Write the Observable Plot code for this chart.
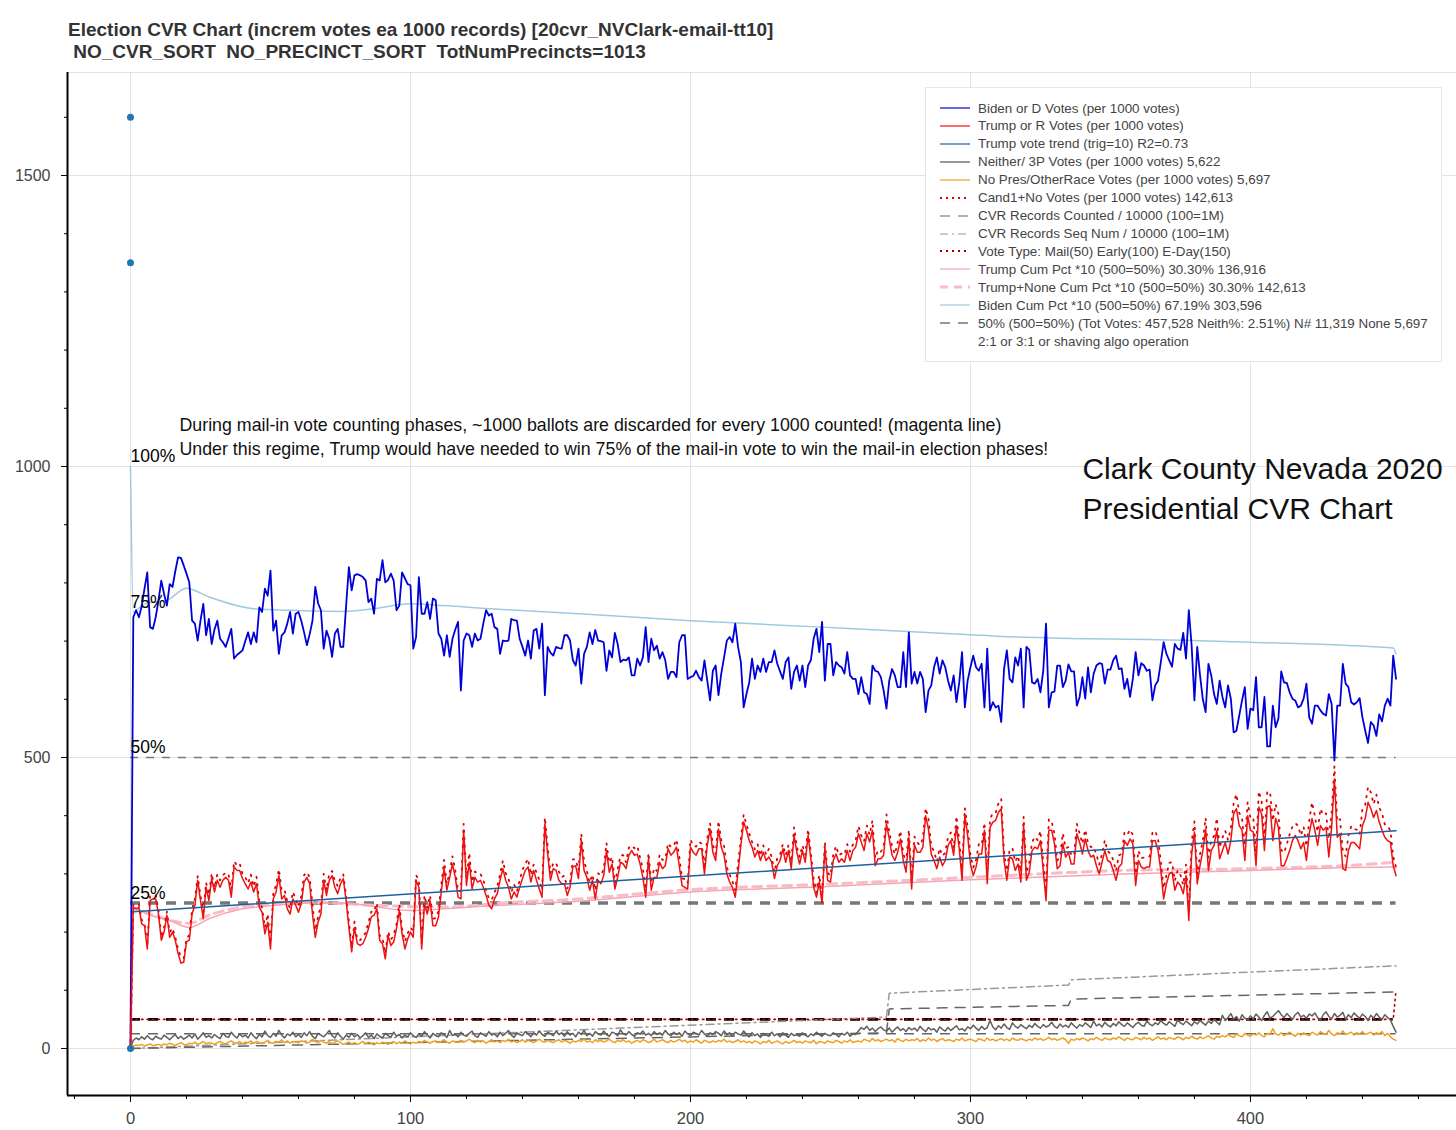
<!DOCTYPE html>
<html>
<head>
<meta charset="utf-8">
<script src="https://cdn.jsdelivr.net/npm/d3@7"></script>
<script src="https://cdn.jsdelivr.net/npm/@observablehq/plot@0.6"></script>
<style>
  html, body { margin: 0; padding: 0; background: #fff; }
  body { width: 1456px; height: 1130px; position: relative; overflow: hidden; font-family: "Liberation Sans", Arial, Helvetica, sans-serif; }
  #title { height: 68px; position: relative; }
  #title div { position: absolute; left: 68px; font-weight: bold; font-size: 19px; color: #333; white-space: pre; }
  #legend { position: absolute; left: 925px; top: 87px; width: 517px; height: 275px; background: #fff; border: 1px solid #e6e6e6; box-sizing: border-box; }
  #legend .row { position: absolute; left: 14px; height: 18px; display: flex; align-items: center; font-size: 13.4px; color: #444; white-space: nowrap; }
  #legend svg { margin-right: 7px; }
</style>
</head>
<body>
<div id="title">
  <div style="top:19px">Election CVR Chart (increm votes ea 1000 records) [20cvr_NVClark-email-tt10]</div>
  <div style="top:41px"> NO_CVR_SORT  NO_PRECINCT_SORT  TotNumPrecincts=1013</div>
</div>
<div id="chart"></div>
<div id="legend"></div>
<script>
// ---------------- data (per 1000-record increment index) ----------------
const biden = [0,741,753,741,760,790,818,724,721,741,
770,804,781,761,798,793,820,844,843,830,
816,801,735,730,701,735,764,710,738,695,
720,735,704,698,690,705,721,670,676,680,
684,700,715,695,715,698,758,750,790,778,
821,718,735,678,710,715,730,750,713,747,
750,735,715,693,712,735,793,765,753,687,
718,704,673,713,721,690,690,760,827,787,
813,815,813,810,804,767,773,747,807,804,
839,801,805,816,804,753,761,818,808,798,
796,687,707,810,747,747,767,738,773,770,
713,704,675,710,673,704,720,733,615,701,
713,710,690,713,701,704,730,753,744,747,
724,721,678,701,700,701,738,736,735,704,
690,675,701,670,718,721,687,730,607,690,
680,675,690,688,687,710,710,701,667,658,
687,627,678,690,715,695,719,701,700,698,
649,684,672,714,695,664,668,667,672,641,
641,670,658,672,724,664,704,684,692,670,
681,667,635,647,647,638,698,710,710,635,
638,640,649,638,632,667,632,598,649,658,
607,644,672,701,707,698,730,690,664,586,
609,629,670,635,658,647,670,647,664,664,
684,661,648,635,664,672,618,647,658,632,
658,621,658,667,704,721,681,733,632,695,
695,641,664,658,655,644,681,641,635,635,
609,638,612,609,592,658,649,647,638,615,
584,632,652,641,621,621,681,621,715,627,
647,627,647,635,578,615,624,655,672,644,
667,655,632,615,641,595,629,681,586,632,
655,675,655,649,661,586,687,581,595,586,
589,561,652,684,635,629,672,658,687,586,
690,685,629,627,635,612,649,730,586,612,
613,658,658,621,632,660,648,648,589,604,
638,601,655,612,644,658,662,661,627,651,
651,667,675,652,653,618,635,604,635,681,
641,662,658,649,651,598,624,632,664,698,
678,667,656,695,687,685,714,670,753,692,
598,690,641,600,578,661,641,609,592,632,
604,586,624,601,543,546,572,598,621,549,
584,581,638,552,552,604,519,519,589,552,
567,648,629,628,612,601,598,586,589,601,
627,569,558,589,589,581,575,572,609,592,
495,589,589,661,627,621,595,591,595,602,
569,546,525,561,555,537,574,562,589,601,
589,675,635];

const trump = [0,243,240,243,214,211,171,254,257,257,
231,186,200,229,191,200,186,163,147,148,
183,186,231,246,289,254,223,277,254,292,
269,289,277,289,294,289,260,312,306,306,
292,283,274,286,269,283,243,234,197,217,
171,257,269,297,257,263,240,231,257,246,
234,249,286,294,283,231,191,217,231,289,
263,289,297,277,266,283,292,254,208,166,
208,180,177,180,191,206,226,229,240,186,
180,154,194,177,183,206,237,197,171,188,
200,191,289,277,171,249,231,254,211,211,
226,269,309,272,294,317,294,260,257,375,
280,320,274,294,286,289,277,263,246,240,
257,266,289,309,289,277,257,269,260,277,
292,306,312,286,306,289,274,260,386,334,
289,309,306,289,283,283,263,277,312,314,
292,357,306,294,272,289,257,289,283,297,
340,303,317,274,294,320,317,309,332,340,
332,334,317,294,260,326,272,294,294,320,
309,314,343,332,337,346,314,280,277,274,
346,337,332,343,343,300,349,377,337,323,
377,346,332,300,286,277,260,303,349,389,
375,357,346,329,340,323,337,323,329,320,
292,314,323,343,320,340,309,366,337,317,
340,320,366,326,277,260,286,249,346,289,
286,323,334,320,326,320,340,323,340,346,
369,355,340,369,355,375,314,326,326,332,
386,360,332,323,337,360,323,303,363,274,
350,337,337,346,400,377,334,323,309,329,
314,323,349,357,332,383,343,289,400,366,
317,297,312,334,334,375,283,380,389,392,
406,412,323,289,329,326,306,317,286,383,
289,303,340,346,343,357,306,254,375,375,
352,309,314,352,329,337,317,317,369,354,
334,360,340,329,332,314,300,320,340,323,
320,306,289,312,317,357,349,360,352,280,
323,312,309,312,312,357,357,340,306,257,
283,300,303,272,286,280,266,297,220,334,
372,283,314,340,377,306,340,349,375,326,
340,354,334,357,403,412,383,375,323,400,
375,372,314,415,403,340,415,417,357,395,
380,314,314,326,340,357,366,357,343,354,
323,369,395,375,349,383,375,380,329,380,
463,363,369,309,306,340,354,354,349,343,
383,395,423,412,397,409,389,375,363,357,
354,314,297];

const neither = [0,14,18,15,20,16,22,17,15,21,
18,16,23,19,15,20,24,17,21,16,
19,23,18,25,16,21,27,19,22,18,
24,20,17,26,21,19,28,22,18,25,
20,23,18,27,21,17,24,20,30,22,
19,26,21,31,23,18,25,22,28,20,
24,19,27,22,29,21,17,26,23,20,
25,31,22,18,27,21,16,23,19,26,
20,24,18,22,27,19,23,17,25,21,
18,26,22,19,28,21,24,18,23,20,
27,22,19,25,21,29,23,18,26,22,
20,27,24,19,31,22,25,20,28,23,
21,26,30,22,19,27,24,21,29,23,
25,20,28,22,26,31,23,19,27,24,
22,29,25,20,27,23,30,24,21,28,
25,22,30,24,27,21,29,23,26,20,
28,24,31,22,26,21,29,25,23,30,
24,21,28,26,22,32,25,23,29,24,
21,27,25,30,23,26,22,29,24,27,
23,31,25,22,28,24,27,21,30,25,
22,28,26,23,31,25,21,27,24,29,
26,22,30,24,27,21,28,25,23,30,
24,20,27,22,25,19,26,23,21,28,
22,25,20,27,23,19,26,22,24,21,
27,23,20,25,22,28,24,21,26,23,
22,27,24,20,26,23,28,21,25,24,
30,36,33,38,31,35,29,34,37,32,
30,35,28,33,37,31,34,29,36,32,
35,30,38,33,29,36,32,34,28,37,
33,30,36,31,35,39,32,34,30,37,
34,40,35,31,38,33,36,48,37,32,
39,35,42,36,33,44,38,35,41,37,
34,40,36,43,38,35,41,37,39,45,
38,35,42,37,40,36,44,39,35,41,
38,44,40,36,47,39,42,37,45,40,
37,43,39,46,41,38,44,40,36,42,
45,40,38,47,42,39,44,41,48,43,
40,46,42,38,49,44,41,47,43,39,
46,42,48,44,40,47,43,50,45,41,
57,48,53,60,50,55,47,58,52,49,
56,51,59,54,48,57,63,52,55,60,
65,58,53,60,55,50,58,62,54,57,
52,59,56,61,53,48,58,63,55,51,
60,54,57,62,50,58,53,61,56,52,
59,55,48,57,52,60,54,50,58,53,
49,38,28];

const none = [0,4,6,5,7,4,6,8,5,6,
7,5,8,6,9,7,5,8,10,7,
6,9,8,11,7,9,12,8,10,9,
7,10,12,9,8,11,13,10,9,12,
8,11,10,13,9,12,10,8,11,14,
10,9,12,11,15,10,13,9,12,11,
10,13,12,9,11,16,12,10,14,11,
9,12,8,11,13,10,7,9,11,8,
10,7,9,12,8,11,9,6,10,8,
11,9,7,10,12,8,11,9,13,10,
8,11,9,12,10,14,11,9,12,13,
10,12,15,11,9,13,12,10,14,11,
13,16,12,10,14,11,13,9,12,15,
11,13,10,14,12,16,11,13,10,12,
15,11,14,12,10,13,16,12,11,14,
12,10,13,15,11,14,12,9,13,11,
14,12,16,11,13,10,15,12,14,11,
13,16,12,10,14,12,15,11,13,9,
12,14,11,15,13,10,12,16,11,13,
15,12,10,14,11,13,16,12,14,10,
13,11,15,12,9,14,12,10,13,11,
14,12,16,11,13,10,12,15,11,13,
10,12,9,13,11,8,12,10,14,9,
11,13,10,8,12,9,11,14,10,12,
9,13,11,10,14,8,12,11,9,13,
11,10,14,12,9,13,11,15,10,12,
13,11,16,14,12,17,13,15,12,14,
16,13,15,11,17,14,12,16,13,15,
14,17,12,15,13,18,14,16,12,15,
17,13,15,14,12,16,14,18,13,15,
16,14,12,17,15,13,18,14,16,13,
15,17,14,16,13,18,15,14,17,15,
13,16,14,18,15,17,14,16,19,15,
17,14,16,18,15,9,16,14,17,15,
18,16,13,17,15,19,16,14,18,16,
15,18,16,20,17,14,18,16,15,19,
17,15,19,16,18,14,17,20,16,18,
15,19,17,16,20,18,15,19,17,21,
18,16,20,17,19,22,18,16,21,19,
22,20,24,21,19,25,22,20,26,23,
21,25,23,27,22,20,26,24,34,25,
23,27,22,25,28,24,21,26,23,27,
24,22,28,25,23,29,26,24,31,25,
22,27,25,30,24,26,28,23,27,25,
29,24,26,28,23,27,25,29,22,26,
20,16,14];

// cumulative percentage lines (*10), read at sampled indices
const bidenCumIdx = [0,1,5,13,20,28,45,57,76,86,100,112,130,157,200,247,300,311,379,400,451,452];
const bidenCumVal = [1000,750,764,770,791,776,755,753,751,755,764,761,755,748,735,724,711,708,701,698,688,678];
const trumpCumIdx = [0,1,7,14,21,28,40,52,64,76,88,100,112,124,136,157,200,247,300,355,400,451,452];
const trumpCumVal = [0,240,229,220,208,223,240,246,250,250,243,237,240,244,247,252,269,278,290,300,306,312,310];
const trumpNoneCumIdx = [0,1,7,21,28,40,64,88,112,136,157,200,247,300,355,400,451,452];
const trumpNoneCumVal = [0,240,231,215,229,243,251,246,243,251,256,273,282,294,306,309,320,322];
const trendIdx = [1,452];
const trendVal = [235,374];
// CVR record counters (/10000) and vote type
const cvrCountedIdx = [0,270,271,335,336,452];
const cvrCountedVal = [0,27,68,74,85,97];
const cvrSeqIdx = [0,270,271,335,336,452];
const cvrSeqVal = [0,54,95,109,118,142];
const voteTypeIdx = [0,451,452];
const voteTypeVal = [50,50,100];
// reference levels
const pctLevels = [1000,750,500,250];
const pctLabels = ["100%","75%","50%","25%"];
const neithPctLevel = 25.1;
const mailLevel = 50;
// scatter dots at x = 0
const dotVals = [0,1350,1600];
// axis ticks
const xMajor = [0,100,200,300,400];
const xMinor = [-20,20,40,60,80,120,140,160,180,220,240,260,280,320,340,360,380,420,440,460];
const yMajor = [0,500,1000,1500];
const yMinor = [100,200,300,400,600,700,800,900,1100,1200,1300,1400,1600];
// annotations
const notes = [
  {x: 17.5, y: 1070, t: "During mail-in vote counting phases, ~1000 ballots are discarded for every 1000 counted! (magenta line)", size: 17.8},
  {x: 17.5, y: 1029, t: "Under this regime, Trump would have needed to win 75% of the mail-in vote to win the mail-in election phases!", size: 17.8},
  {x: 340, y: 995, t: "Clark County Nevada 2020", size: 30},
  {x: 340, y: 926, t: "Presidential CVR Chart", size: 30}
];

// ---------------- build ----------------
const idx = d3.range(biden.length);
const rows = idx.map(i => ({i, biden: biden[i], trump: trump[i], neither: neither[i], none: none[i]}));
const pairs = (xs, ys) => xs.map((x, k) => ({x, y: ys[k]}));
const first = d3.min(idx), last = d3.max(idx);
const xMin = -22.5, xMax = 473.6, yMin = -80.8, yMax = 1677;
const font = '"Liberation Sans", Arial, Helvetica, sans-serif';

const chart = Plot.plot({
  width: 1456, height: 1062,
  marginLeft: 67, marginRight: 0, marginTop: 4, marginBottom: 35,
  x: {domain: [xMin, xMax], label: null},
  y: {domain: [yMin, yMax], label: null},
  style: {fontFamily: font, fontSize: "16px", background: "#fff", overflow: "visible"},
  marks: [
    Plot.gridX(xMajor, {stroke: "#e2e2e2", strokeOpacity: 1}),
    Plot.gridY(yMajor, {stroke: "#e2e2e2", strokeOpacity: 1}),
    Plot.ruleY([yMax], {stroke: "#e2e2e2"}),
    // reference levels
    Plot.ruleY([500], {x1: () => first, x2: () => last, stroke: "#777", strokeWidth: 1.5, strokeDasharray: "8,8"}),
    Plot.ruleY([250], {x1: () => first, x2: () => last, stroke: "#777", strokeWidth: 3.5, strokeDasharray: "10,8"}),
    Plot.ruleY([neithPctLevel], {x1: () => first, x2: () => last, stroke: "#666", strokeWidth: 1.5, strokeDasharray: "10,8"}),
    Plot.ruleY([mailLevel], {x1: () => first, x2: () => last - 1, stroke: "#000", strokeWidth: 2.8, strokeDasharray: "10,8"}),
    // counters
    Plot.line(pairs(cvrSeqIdx, cvrSeqVal), {x: "x", y: "y", stroke: "#999", strokeWidth: 1.5, strokeDasharray: "8,4,2,4"}),
    Plot.line(pairs(cvrCountedIdx, cvrCountedVal), {x: "x", y: "y", stroke: "#666", strokeWidth: 1.5, strokeDasharray: "10,8"}),
    Plot.line(pairs(voteTypeIdx, voteTypeVal), {x: "x", y: "y", stroke: "#b00000", strokeWidth: 1.6, strokeDasharray: "1.5,4"}),
    Plot.line(rows, {x: "i", y: "none", stroke: "#f0a020", strokeWidth: 1.5}),
    Plot.line(rows, {x: "i", y: "neither", stroke: "#5f5f5f", strokeWidth: 1.5}),
    // cumulative lines
    Plot.line(pairs(bidenCumIdx, bidenCumVal), {x: "x", y: "y", stroke: "#9ecae1", strokeWidth: 1.5, curve: "monotone-x"}),
    Plot.line(pairs(trumpNoneCumIdx, trumpNoneCumVal), {x: "x", y: "y", stroke: "#f7bcc7", strokeWidth: 3, strokeDasharray: "9,6", curve: "monotone-x"}),
    Plot.line(pairs(trumpCumIdx, trumpCumVal), {x: "x", y: "y", stroke: "#f4a6b4", strokeWidth: 1.5, curve: "monotone-x"}),
    // votes
    Plot.line(rows, {x: "i", y: "biden", stroke: "#0000d8", strokeWidth: 1.8}),
    Plot.line(rows, {x: "i", y: d => d.trump + d.none, stroke: "#e00000", strokeWidth: 1.8, strokeDasharray: "1.5,6"}),
    Plot.line(rows, {x: "i", y: "trump", stroke: "#ee1111", strokeWidth: 1.5}),
    Plot.line(pairs(trendIdx, trendVal), {x: "x", y: "y", stroke: "#1f5f9f", strokeWidth: 1.5}),
    Plot.dot(dotVals, {x: () => 0, y: d => d, r: 3.5, fill: "#1f77b4", stroke: "none"}),
    // labels
    Plot.text(pctLevels, {x: () => 0, y: d => d, text: (d, k) => pctLabels[k], textAnchor: "start", dx: 0, dy: -10, fontSize: 17.5, fill: "#000"}),
    Plot.text(notes, {x: "x", y: "y", text: "t", textAnchor: "start", fontSize: d => d.size, fill: "#111"}),
    // axes
    Plot.ruleX([xMin], {stroke: "#000", strokeWidth: 2}),
    Plot.ruleY([yMin], {stroke: "#000", strokeWidth: 2}),
    Plot.axisY(yMajor, {tickSize: 6, tickPadding: 11, stroke: "#000", fill: "#444", fontSize: 16, tickFormat: d => String(d), label: null}),
    Plot.axisY(yMinor, {tickSize: 3, tickFormat: () => "", stroke: "#000", label: null}),
    Plot.axisX(xMajor, {tickSize: 7, tickPadding: 10, stroke: "#000", fill: "#444", fontSize: 16.5, tickFormat: d => String(d), label: null}),
    Plot.axisX(xMinor, {tickSize: 4, tickFormat: () => "", stroke: "#000", label: null})
  ]
});
document.getElementById("chart").appendChild(chart);

// ---------------- legend ----------------
const legendItems = [
  {label: "Biden or D Votes (per 1000 votes)", stroke: "#0000d8"},
  {label: "Trump or R Votes (per 1000 votes)", stroke: "#ee1111"},
  {label: "Trump vote trend (trig=10) R2=0.73", stroke: "#1f5f9f"},
  {label: "Neither/ 3P Votes (per 1000 votes) 5,622", stroke: "#555"},
  {label: "No Pres/OtherRace Votes (per 1000 votes) 5,697", stroke: "#f0a020"},
  {label: "Cand1+No Votes (per 1000 votes) 142,613", stroke: "#e00000", dash: "2,4", w: 2},
  {label: "CVR Records Counted / 10000 (100=1M)", stroke: "#666", dash: "10,8"},
  {label: "CVR Records Seq Num / 10000 (100=1M)", stroke: "#999", dash: "8,4,2,4"},
  {label: "Vote Type: Mail(50) Early(100) E-Day(150)", stroke: "#a00000", dash: "2,4", w: 2},
  {label: "Trump Cum Pct *10 (500=50%) 30.30% 136,916", stroke: "#f4a6b4"},
  {label: "Trump+None Cum Pct *10 (500=50%) 30.30% 142,613", stroke: "#f7bcc7", dash: "8,6", w: 3},
  {label: "Biden Cum Pct *10 (500=50%) 67.19% 303,596", stroke: "#9ecae1"},
  {label: "50% (500=50%) (Tot Votes: 457,528 Neith%: 2.51%) N# 11,319 None 5,697", stroke: "#333", dash: "10,8"},
  {label: "2:1 or 3:1 or shaving algo operation", stroke: "none"}
];
const legend = document.getElementById("legend");
legendItems.forEach((it, k) => {
  const row = document.createElement("div");
  row.className = "row";
  row.style.top = (11 + k * 17.93) + "px";
  row.innerHTML = `<svg width="31" height="10"><line x1="0" x2="30" y1="5" y2="5" stroke="${it.stroke}" stroke-width="${it.w || 1.2}" ${it.dash ? `stroke-dasharray="${it.dash}"` : ""}/></svg><span>${it.label}</span>`;
  legend.appendChild(row);
});
</script>
</body>
</html>
